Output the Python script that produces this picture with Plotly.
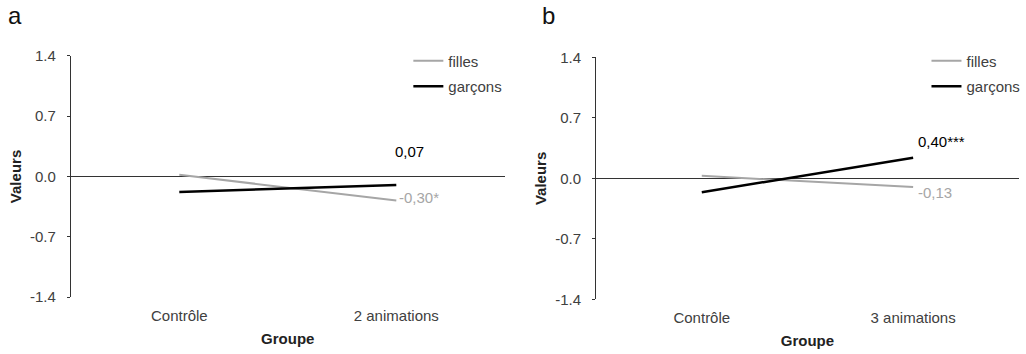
import plotly.graph_objects as go

# ---- data ----
categories_a = ["Contrôle", "2 animations"]
categories_b = ["Contrôle", "3 animations"]
filles_a = [0.02, -0.28]
garcons_a = [-0.18, -0.10]
filles_b = [0.03, -0.10]
garcons_b = [-0.16, 0.24]
labels_filles_a = "-0,30*"
labels_garcons_a = "0,07"
labels_filles_b = "-0,13"
labels_garcons_b = "0,40***"
y_ticks = [1.4, 0.7, 0.0, -0.7, -1.4]
y_ticktext = ["1.4", "0.7", "0.0", "-0.7", "-1.4"]

GRAY = "#a6a6a6"
BLACK = "#000000"
FONT = "Liberation Sans, Arial, sans-serif"
TICKCOL = "#404040"

fig = go.Figure()

# Panel a
fig.add_trace(go.Scatter(x=categories_a, y=filles_a, mode="lines", name="filles",
                         line=dict(color=GRAY, width=2), xaxis="x", yaxis="y",
                         legend="legend", legendgroup="fa"))
fig.add_trace(go.Scatter(x=categories_a, y=garcons_a, mode="lines", name="garçons",
                         line=dict(color=BLACK, width=2.5), xaxis="x", yaxis="y",
                         legend="legend", legendgroup="ga"))
# Panel b
fig.add_trace(go.Scatter(x=categories_b, y=filles_b, mode="lines", name="filles",
                         line=dict(color=GRAY, width=2), xaxis="x2", yaxis="y2",
                         legend="legend2", legendgroup="fb"))
fig.add_trace(go.Scatter(x=categories_b, y=garcons_b, mode="lines", name="garçons",
                         line=dict(color=BLACK, width=2.5), xaxis="x2", yaxis="y2",
                         legend="legend2", legendgroup="gb"))

yaxis_common = dict(range=[-1.4, 1.4], tickvals=y_ticks, ticktext=y_ticktext,
                    showline=True, linecolor="#333333", linewidth=1,
                    ticks="outside", ticklen=3, tickcolor="#333333",
                    ticklabelstandoff=8, automargin=False,
                    showgrid=False, zeroline=True, zerolinecolor="#333333",
                    zerolinewidth=1, tickfont=dict(family=FONT, size=15, color=TICKCOL),
                    title=dict(text="<b>Valeurs</b>", font=dict(family=FONT, size=15, color="#222"),
                               standoff=4))
xaxis_common = dict(range=[-0.5, 1.5], type="category", showline=False, showgrid=False,
                    zeroline=False, ticks="", ticklabelstandoff=8, automargin=False,
                    tickfont=dict(family=FONT, size=15, color=TICKCOL),
                    title=dict(text="<b>Groupe</b>", font=dict(family=FONT, size=15, color="#222"),
                               standoff=10))

legend_common = dict(font=dict(family=FONT, size=15, color=TICKCOL), bgcolor="rgba(0,0,0,0)",
                     itemwidth=30, tracegroupgap=3, xanchor="left", yanchor="top",
                     traceorder="grouped")

fig.update_layout(
    width=1026, height=354,
    margin=dict(l=0, r=0, t=0, b=0, autoexpand=False),
    paper_bgcolor="white", plot_bgcolor="white",
    showlegend=True,
    xaxis=dict(domain=[0.069, 0.492], anchor="y", **xaxis_common),
    yaxis=dict(domain=[0.161, 0.842], anchor="x", **yaxis_common),
    xaxis2=dict(domain=[0.581, 0.993], anchor="y2", **xaxis_common),
    yaxis2=dict(domain=[0.154, 0.838], anchor="x2", **yaxis_common),
    legend=dict(x=0.398, y=0.874, **legend_common),
    legend2=dict(x=0.903, y=0.874, **legend_common),
    annotations=[
        dict(text="a", x=0.006, y=1.0, xref="paper", yref="paper", xanchor="left", yanchor="top",
             showarrow=False, font=dict(family=FONT, size=24, color="#111")),
        dict(text="b", x=0.526, y=1.0, xref="paper", yref="paper", xanchor="left", yanchor="top",
             showarrow=False, font=dict(family=FONT, size=24, color="#111")),
        dict(text=labels_garcons_a, x=categories_a[1], y=garcons_a[1], xref="x", yref="y",
             xanchor="left", yanchor="middle", xshift=-3, yshift=34, showarrow=False,
             font=dict(family=FONT, size=15, color=BLACK)),
        dict(text=labels_filles_a, x=categories_a[1], y=filles_a[1], xref="x", yref="y",
             xanchor="left", yanchor="middle", xshift=1, yshift=3, showarrow=False,
             font=dict(family=FONT, size=15, color=GRAY)),
        dict(text=labels_garcons_b, x=categories_b[1], y=garcons_b[1], xref="x2", yref="y2",
             xanchor="left", yanchor="middle", xshift=3, yshift=16, showarrow=False,
             font=dict(family=FONT, size=15, color=BLACK)),
        dict(text=labels_filles_b, x=categories_b[1], y=filles_b[1], xref="x2", yref="y2",
             xanchor="left", yanchor="middle", xshift=3, yshift=-5, showarrow=False,
             font=dict(family=FONT, size=15, color=GRAY)),
    ],
)

fig.write_html("out.html")
